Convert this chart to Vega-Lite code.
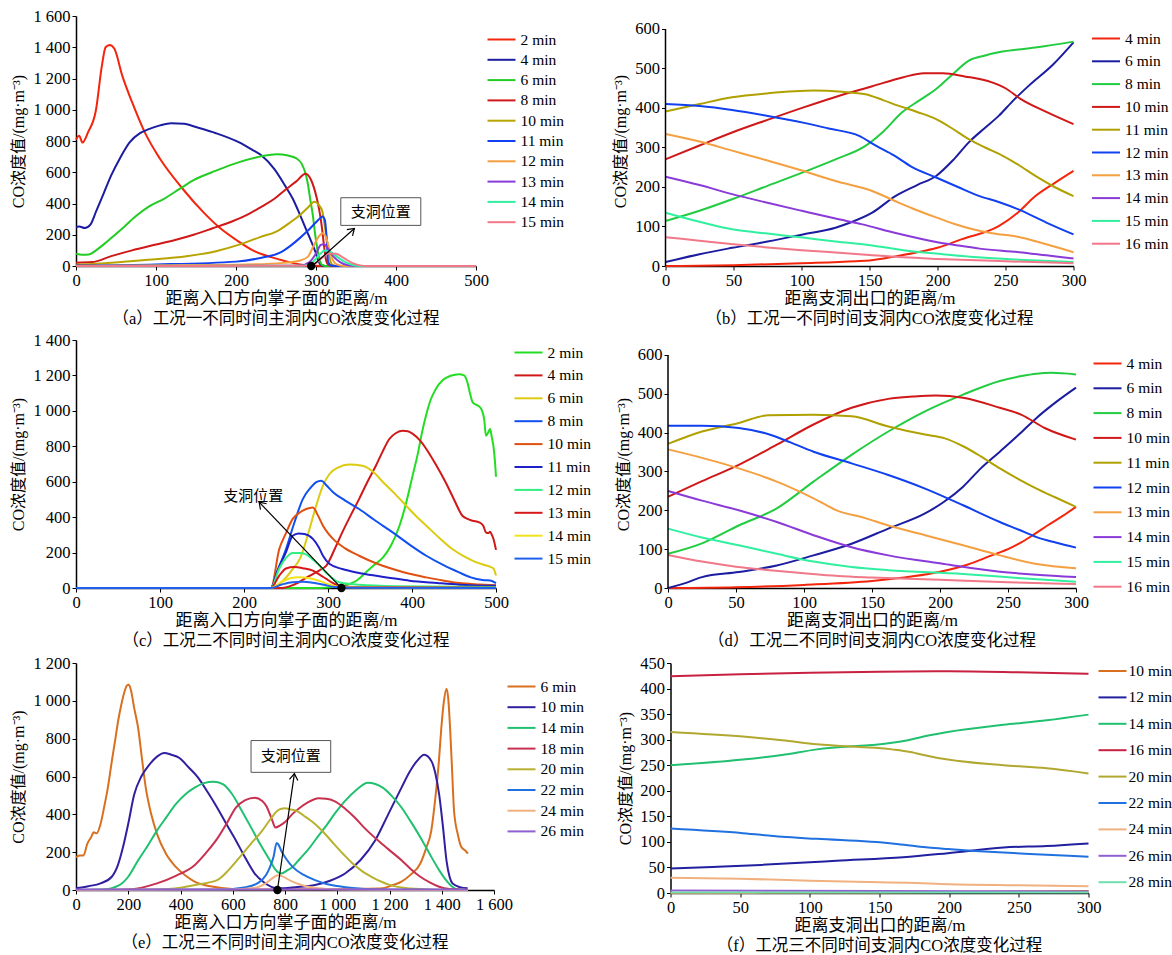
{
"$schema": "https://vega.github.io/schema/vega-lite/v6.json",
"background": "white",
"padding": {"left": 10, "top": 8, "right": 0, "bottom": 0},
"config": {
  "view": {"stroke": null},
  "font": "'Liberation Serif', 'Noto Sans CJK SC'",
  "axis": {"labelFont": "Liberation Serif", "labelFontSize": 16.5, "labelColor": "#000", "titleFont": "'Liberation Serif', 'Noto Sans CJK SC'", "titleFontSize": 17, "titleFontWeight": "normal", "titleColor": "#000", "domainColor": "#000", "domainWidth": 1.5, "tickColor": "#000", "tickSize": 4, "grid": false, "labelPadding": 2, "titlePadding": 2, "labelFlush": false, "labelOverlap": false},
  "axisY": {"titleFontSize": 16, "titlePadding": 6},
  "legend": {"labelFont": "Liberation Serif", "labelFontSize": 15.5, "labelColor": "#000", "symbolType": "M-2,0H2", "symbolStrokeWidth": 2.5, "symbolSize": 196, "labelOffset": 11},
  "title": {"font": "'Liberation Serif', 'Noto Sans CJK SC'", "fontSize": 16.5, "fontWeight": "normal", "color": "#000", "orient": "bottom", "anchor": "middle", "offset": 4},
  "line": {"strokeWidth": 2, "interpolate": "monotone"}
},
"datasets": {
"a": [
{"s":"2 min","x":0,"y":810},{"s":"2 min","x":4,"y":834},{"s":"2 min","x":8,"y":790},{"s":"2 min","x":15,"y":855},{"s":"2 min","x":25,"y":1000},{"s":"2 min","x":32,"y":1270},{"s":"2 min","x":37,"y":1400},{"s":"2 min","x":42,"y":1415},{"s":"2 min","x":48,"y":1390},{"s":"2 min","x":58,"y":1215},{"s":"2 min","x":70,"y":1050},{"s":"2 min","x":86,"y":855},{"s":"2 min","x":105,"y":686},{"s":"2 min","x":133,"y":496},{"s":"2 min","x":160,"y":340},{"s":"2 min","x":180,"y":243},{"s":"2 min","x":200,"y":168},{"s":"2 min","x":223,"y":95},{"s":"2 min","x":245,"y":55},{"s":"2 min","x":261,"y":32},{"s":"2 min","x":280,"y":10},{"s":"2 min","x":300,"y":2},{"s":"2 min","x":320,"y":0},{"s":"2 min","x":500,"y":0},
{"s":"4 min","x":0,"y":250},{"s":"4 min","x":4,"y":253},{"s":"4 min","x":11,"y":243},{"s":"4 min","x":18,"y":265},{"s":"4 min","x":25,"y":348},{"s":"4 min","x":35,"y":470},{"s":"4 min","x":44,"y":580},{"s":"4 min","x":55,"y":690},{"s":"4 min","x":67,"y":791},{"s":"4 min","x":80,"y":850},{"s":"4 min","x":91,"y":876},{"s":"4 min","x":105,"y":900},{"s":"4 min","x":119,"y":914},{"s":"4 min","x":135,"y":910},{"s":"4 min","x":152,"y":886},{"s":"4 min","x":175,"y":850},{"s":"4 min","x":204,"y":791},{"s":"4 min","x":220,"y":745},{"s":"4 min","x":232,"y":707},{"s":"4 min","x":248,"y":620},{"s":"4 min","x":261,"y":517},{"s":"4 min","x":271,"y":430},{"s":"4 min","x":280,"y":327},{"s":"4 min","x":288,"y":230},{"s":"4 min","x":294,"y":158},{"s":"4 min","x":300,"y":80},{"s":"4 min","x":303,"y":32},{"s":"4 min","x":307,"y":5},{"s":"4 min","x":312,"y":0},{"s":"4 min","x":500,"y":0},
{"s":"6 min","x":0,"y":78},{"s":"6 min","x":8,"y":72},{"s":"6 min","x":16,"y":74},{"s":"6 min","x":25,"y":100},{"s":"6 min","x":35,"y":140},{"s":"6 min","x":44,"y":179},{"s":"6 min","x":60,"y":250},{"s":"6 min","x":75,"y":320},{"s":"6 min","x":91,"y":380},{"s":"6 min","x":110,"y":430},{"s":"6 min","x":130,"y":495},{"s":"6 min","x":147,"y":549},{"s":"6 min","x":175,"y":610},{"s":"6 min","x":204,"y":665},{"s":"6 min","x":230,"y":700},{"s":"6 min","x":251,"y":716},{"s":"6 min","x":265,"y":707},{"s":"6 min","x":275,"y":690},{"s":"6 min","x":282,"y":655},{"s":"6 min","x":287,"y":590},{"s":"6 min","x":290,"y":520},{"s":"6 min","x":293,"y":420},{"s":"6 min","x":296,"y":327},{"s":"6 min","x":299,"y":200},{"s":"6 min","x":303,"y":74},{"s":"6 min","x":307,"y":10},{"s":"6 min","x":312,"y":0},{"s":"6 min","x":500,"y":0},
{"s":"8 min","x":0,"y":21},{"s":"8 min","x":20,"y":25},{"s":"8 min","x":44,"y":63},{"s":"8 min","x":70,"y":100},{"s":"8 min","x":100,"y":137},{"s":"8 min","x":125,"y":168},{"s":"8 min","x":147,"y":200},{"s":"8 min","x":170,"y":240},{"s":"8 min","x":195,"y":285},{"s":"8 min","x":215,"y":330},{"s":"8 min","x":232,"y":380},{"s":"8 min","x":248,"y":430},{"s":"8 min","x":261,"y":485},{"s":"8 min","x":275,"y":540},{"s":"8 min","x":287,"y":591},{"s":"8 min","x":294,"y":549},{"s":"8 min","x":301,"y":433},{"s":"8 min","x":305,"y":330},{"s":"8 min","x":308,"y":222},{"s":"8 min","x":310,"y":130},{"s":"8 min","x":312,"y":53},{"s":"8 min","x":315,"y":10},{"s":"8 min","x":320,"y":0},{"s":"8 min","x":500,"y":0},
{"s":"10 min","x":0,"y":8},{"s":"10 min","x":44,"y":21},{"s":"10 min","x":90,"y":40},{"s":"10 min","x":138,"y":63},{"s":"10 min","x":175,"y":95},{"s":"10 min","x":204,"y":137},{"s":"10 min","x":230,"y":185},{"s":"10 min","x":251,"y":222},{"s":"10 min","x":268,"y":280},{"s":"10 min","x":280,"y":327},{"s":"10 min","x":290,"y":375},{"s":"10 min","x":298,"y":412},{"s":"10 min","x":303,"y":395},{"s":"10 min","x":308,"y":348},{"s":"10 min","x":312,"y":222},{"s":"10 min","x":315,"y":120},{"s":"10 min","x":317,"y":53},{"s":"10 min","x":320,"y":10},{"s":"10 min","x":325,"y":0},{"s":"10 min","x":500,"y":0},
{"s":"11 min","x":0,"y":3},{"s":"11 min","x":100,"y":10},{"s":"11 min","x":200,"y":28},{"s":"11 min","x":232,"y":53},{"s":"11 min","x":255,"y":85},{"s":"11 min","x":270,"y":137},{"s":"11 min","x":280,"y":180},{"s":"11 min","x":289,"y":222},{"s":"11 min","x":301,"y":285},{"s":"11 min","x":305,"y":305},{"s":"11 min","x":308,"y":317},{"s":"11 min","x":311,"y":295},{"s":"11 min","x":313,"y":200},{"s":"11 min","x":314,"y":120},{"s":"11 min","x":315,"y":32},{"s":"11 min","x":318,"y":5},{"s":"11 min","x":325,"y":0},{"s":"11 min","x":500,"y":0},
{"s":"12 min","x":0,"y":0},{"s":"12 min","x":200,"y":8},{"s":"12 min","x":260,"y":20},{"s":"12 min","x":280,"y":35},{"s":"12 min","x":290,"y":60},{"s":"12 min","x":297,"y":130},{"s":"12 min","x":303,"y":185},{"s":"12 min","x":308,"y":210},{"s":"12 min","x":312,"y":190},{"s":"12 min","x":316,"y":120},{"s":"12 min","x":320,"y":50},{"s":"12 min","x":326,"y":10},{"s":"12 min","x":335,"y":0},{"s":"12 min","x":500,"y":0},
{"s":"13 min","x":0,"y":0},{"s":"13 min","x":280,"y":2},{"s":"13 min","x":292,"y":25},{"s":"13 min","x":300,"y":80},{"s":"13 min","x":306,"y":135},{"s":"13 min","x":310,"y":140},{"s":"13 min","x":315,"y":110},{"s":"13 min","x":322,"y":60},{"s":"13 min","x":330,"y":25},{"s":"13 min","x":340,"y":5},{"s":"13 min","x":350,"y":0},{"s":"13 min","x":500,"y":0},
{"s":"14 min","x":0,"y":0},{"s":"14 min","x":285,"y":2},{"s":"14 min","x":296,"y":25},{"s":"14 min","x":304,"y":70},{"s":"14 min","x":311,"y":100},{"s":"14 min","x":318,"y":90},{"s":"14 min","x":326,"y":60},{"s":"14 min","x":335,"y":30},{"s":"14 min","x":345,"y":8},{"s":"14 min","x":355,"y":0},{"s":"14 min","x":500,"y":0},
{"s":"15 min","x":0,"y":0},{"s":"15 min","x":290,"y":2},{"s":"15 min","x":300,"y":20},{"s":"15 min","x":308,"y":55},{"s":"15 min","x":316,"y":80},{"s":"15 min","x":325,"y":78},{"s":"15 min","x":335,"y":50},{"s":"15 min","x":345,"y":20},{"s":"15 min","x":355,"y":4},{"s":"15 min","x":365,"y":0},{"s":"15 min","x":500,"y":0}
],
"b": [
{"s":"4 min","x":0,"y":0},{"s":"4 min","x":50,"y":2},{"s":"4 min","x":100,"y":7},{"s":"4 min","x":140,"y":12},{"s":"4 min","x":150,"y":14},{"s":"4 min","x":170,"y":25},{"s":"4 min","x":190,"y":38},{"s":"4 min","x":200,"y":46},{"s":"4 min","x":218,"y":68},{"s":"4 min","x":245,"y":101},{"s":"4 min","x":259,"y":135},{"s":"4 min","x":272,"y":177},{"s":"4 min","x":286,"y":210},{"s":"4 min","x":300,"y":241},
{"s":"6 min","x":0,"y":10},{"s":"6 min","x":25,"y":30},{"s":"6 min","x":49,"y":46},{"s":"6 min","x":75,"y":62},{"s":"6 min","x":101,"y":80},{"s":"6 min","x":125,"y":97},{"s":"6 min","x":136,"y":110},{"s":"6 min","x":152,"y":135},{"s":"6 min","x":169,"y":177},{"s":"6 min","x":185,"y":205},{"s":"6 min","x":199,"y":228},{"s":"6 min","x":212,"y":270},{"s":"6 min","x":223,"y":313},{"s":"6 min","x":235,"y":350},{"s":"6 min","x":245,"y":380},{"s":"6 min","x":256,"y":420},{"s":"6 min","x":267,"y":456},{"s":"6 min","x":285,"y":510},{"s":"6 min","x":300,"y":566},
{"s":"8 min","x":0,"y":114},{"s":"8 min","x":25,"y":140},{"s":"8 min","x":49,"y":169},{"s":"8 min","x":75,"y":203},{"s":"8 min","x":101,"y":237},{"s":"8 min","x":125,"y":270},{"s":"8 min","x":147,"y":304},{"s":"8 min","x":160,"y":340},{"s":"8 min","x":174,"y":389},{"s":"8 min","x":187,"y":420},{"s":"8 min","x":199,"y":448},{"s":"8 min","x":211,"y":485},{"s":"8 min","x":223,"y":520},{"s":"8 min","x":235,"y":533},{"s":"8 min","x":245,"y":541},{"s":"8 min","x":272,"y":553},{"s":"8 min","x":300,"y":568},
{"s":"10 min","x":0,"y":270},{"s":"10 min","x":25,"y":305},{"s":"10 min","x":49,"y":338},{"s":"10 min","x":75,"y":370},{"s":"10 min","x":101,"y":401},{"s":"10 min","x":125,"y":428},{"s":"10 min","x":152,"y":455},{"s":"10 min","x":175,"y":478},{"s":"10 min","x":190,"y":488},{"s":"10 min","x":204,"y":488},{"s":"10 min","x":220,"y":480},{"s":"10 min","x":240,"y":465},{"s":"10 min","x":250,"y":450},{"s":"10 min","x":261,"y":423},{"s":"10 min","x":280,"y":390},{"s":"10 min","x":300,"y":359},
{"s":"11 min","x":0,"y":391},{"s":"11 min","x":25,"y":410},{"s":"11 min","x":49,"y":427},{"s":"11 min","x":75,"y":437},{"s":"11 min","x":109,"y":444},{"s":"11 min","x":130,"y":441},{"s":"11 min","x":147,"y":435},{"s":"11 min","x":160,"y":420},{"s":"11 min","x":171,"y":406},{"s":"11 min","x":185,"y":390},{"s":"11 min","x":199,"y":372},{"s":"11 min","x":210,"y":350},{"s":"11 min","x":223,"y":321},{"s":"11 min","x":235,"y":300},{"s":"11 min","x":248,"y":279},{"s":"11 min","x":260,"y":255},{"s":"11 min","x":272,"y":228},{"s":"11 min","x":286,"y":200},{"s":"11 min","x":300,"y":177},
{"s":"12 min","x":0,"y":410},{"s":"12 min","x":25,"y":405},{"s":"12 min","x":49,"y":395},{"s":"12 min","x":75,"y":380},{"s":"12 min","x":101,"y":363},{"s":"12 min","x":120,"y":348},{"s":"12 min","x":142,"y":330},{"s":"12 min","x":155,"y":304},{"s":"12 min","x":168,"y":280},{"s":"12 min","x":180,"y":253},{"s":"12 min","x":199,"y":224},{"s":"12 min","x":215,"y":200},{"s":"12 min","x":231,"y":177},{"s":"12 min","x":245,"y":162},{"s":"12 min","x":259,"y":144},{"s":"12 min","x":280,"y":110},{"s":"12 min","x":300,"y":80},
{"s":"13 min","x":0,"y":334},{"s":"13 min","x":25,"y":315},{"s":"13 min","x":49,"y":292},{"s":"13 min","x":75,"y":267},{"s":"13 min","x":101,"y":241},{"s":"13 min","x":125,"y":215},{"s":"13 min","x":152,"y":190},{"s":"13 min","x":171,"y":161},{"s":"13 min","x":185,"y":141},{"s":"13 min","x":199,"y":123},{"s":"13 min","x":212,"y":107},{"s":"13 min","x":226,"y":93},{"s":"13 min","x":240,"y":83},{"s":"13 min","x":259,"y":74},{"s":"13 min","x":280,"y":55},{"s":"13 min","x":300,"y":35},
{"s":"14 min","x":0,"y":226},{"s":"14 min","x":25,"y":205},{"s":"14 min","x":49,"y":182},{"s":"14 min","x":75,"y":160},{"s":"14 min","x":101,"y":139},{"s":"14 min","x":125,"y":120},{"s":"14 min","x":144,"y":106},{"s":"14 min","x":170,"y":83},{"s":"14 min","x":199,"y":61},{"s":"14 min","x":215,"y":52},{"s":"14 min","x":231,"y":44},{"s":"14 min","x":260,"y":35},{"s":"14 min","x":280,"y":27},{"s":"14 min","x":300,"y":19},
{"s":"15 min","x":0,"y":135},{"s":"15 min","x":25,"y":112},{"s":"15 min","x":49,"y":93},{"s":"15 min","x":75,"y":82},{"s":"15 min","x":101,"y":72},{"s":"15 min","x":125,"y":62},{"s":"15 min","x":152,"y":52},{"s":"15 min","x":175,"y":40},{"s":"15 min","x":204,"y":30},{"s":"15 min","x":230,"y":22},{"s":"15 min","x":260,"y":16},{"s":"15 min","x":300,"y":10},
{"s":"16 min","x":0,"y":73},{"s":"16 min","x":25,"y":64},{"s":"16 min","x":50,"y":55},{"s":"16 min","x":75,"y":47},{"s":"16 min","x":100,"y":40},{"s":"16 min","x":125,"y":34},{"s":"16 min","x":150,"y":28},{"s":"16 min","x":175,"y":22},{"s":"16 min","x":200,"y":18},{"s":"16 min","x":250,"y":12},{"s":"16 min","x":300,"y":7}
],
"c": [
{"s":"2 min","x":0,"y":0},{"s":"2 min","x":290,"y":0},{"s":"2 min","x":305,"y":5},{"s":"2 min","x":320,"y":15},{"s":"2 min","x":335,"y":45},{"s":"2 min","x":345,"y":88},{"s":"2 min","x":355,"y":130},{"s":"2 min","x":365,"y":170},{"s":"2 min","x":375,"y":240},{"s":"2 min","x":385,"y":350},{"s":"2 min","x":393,"y":480},{"s":"2 min","x":401,"y":640},{"s":"2 min","x":407,"y":760},{"s":"2 min","x":412,"y":880},{"s":"2 min","x":417,"y":980},{"s":"2 min","x":422,"y":1060},{"s":"2 min","x":428,"y":1120},{"s":"2 min","x":437,"y":1175},{"s":"2 min","x":446,"y":1198},{"s":"2 min","x":456,"y":1207},{"s":"2 min","x":462,"y":1200},{"s":"2 min","x":466,"y":1160},{"s":"2 min","x":469,"y":1100},{"s":"2 min","x":472,"y":1050},{"s":"2 min","x":476,"y":1035},{"s":"2 min","x":480,"y":1025},{"s":"2 min","x":483,"y":1005},{"s":"2 min","x":486,"y":950},{"s":"2 min","x":488,"y":860},{"s":"2 min","x":491,"y":880},{"s":"2 min","x":493,"y":898},{"s":"2 min","x":495,"y":850},{"s":"2 min","x":497,"y":800},{"s":"2 min","x":499,"y":700},{"s":"2 min","x":500,"y":628},
{"s":"4 min","x":0,"y":0},{"s":"4 min","x":245,"y":0},{"s":"4 min","x":260,"y":20},{"s":"4 min","x":278,"y":69},{"s":"4 min","x":290,"y":100},{"s":"4 min","x":298,"y":126},{"s":"4 min","x":308,"y":220},{"s":"4 min","x":317,"y":314},{"s":"4 min","x":327,"y":410},{"s":"4 min","x":337,"y":502},{"s":"4 min","x":347,"y":600},{"s":"4 min","x":357,"y":690},{"s":"4 min","x":365,"y":770},{"s":"4 min","x":373,"y":841},{"s":"4 min","x":381,"y":875},{"s":"4 min","x":389,"y":888},{"s":"4 min","x":395,"y":885},{"s":"4 min","x":401,"y":870},{"s":"4 min","x":410,"y":830},{"s":"4 min","x":417,"y":785},{"s":"4 min","x":428,"y":700},{"s":"4 min","x":440,"y":597},{"s":"4 min","x":450,"y":500},{"s":"4 min","x":460,"y":408},{"s":"4 min","x":466,"y":390},{"s":"4 min","x":472,"y":380},{"s":"4 min","x":480,"y":371},{"s":"4 min","x":485,"y":350},{"s":"4 min","x":488,"y":314},{"s":"4 min","x":491,"y":310},{"s":"4 min","x":493,"y":318},{"s":"4 min","x":495,"y":300},{"s":"4 min","x":497,"y":277},{"s":"4 min","x":500,"y":215},
{"s":"6 min","x":0,"y":0},{"s":"6 min","x":231,"y":0},{"s":"6 min","x":245,"y":35},{"s":"6 min","x":258,"y":107},{"s":"6 min","x":267,"y":170},{"s":"6 min","x":278,"y":333},{"s":"6 min","x":285,"y":450},{"s":"6 min","x":294,"y":578},{"s":"6 min","x":302,"y":645},{"s":"6 min","x":312,"y":680},{"s":"6 min","x":325,"y":697},{"s":"6 min","x":341,"y":690},{"s":"6 min","x":355,"y":650},{"s":"6 min","x":365,"y":600},{"s":"6 min","x":380,"y":530},{"s":"6 min","x":393,"y":465},{"s":"6 min","x":405,"y":405},{"s":"6 min","x":417,"y":352},{"s":"6 min","x":432,"y":285},{"s":"6 min","x":448,"y":220},{"s":"6 min","x":462,"y":178},{"s":"6 min","x":476,"y":146},{"s":"6 min","x":486,"y":130},{"s":"6 min","x":493,"y":120},{"s":"6 min","x":497,"y":110},{"s":"6 min","x":500,"y":70},
{"s":"8 min","x":0,"y":0},{"s":"8 min","x":232,"y":0},{"s":"8 min","x":240,"y":100},{"s":"8 min","x":250,"y":220},{"s":"8 min","x":260,"y":370},{"s":"8 min","x":270,"y":502},{"s":"8 min","x":280,"y":570},{"s":"8 min","x":286,"y":598},{"s":"8 min","x":292,"y":606},{"s":"8 min","x":298,"y":580},{"s":"8 min","x":306,"y":541},{"s":"8 min","x":320,"y":495},{"s":"8 min","x":337,"y":446},{"s":"8 min","x":355,"y":385},{"s":"8 min","x":377,"y":314},{"s":"8 min","x":397,"y":245},{"s":"8 min","x":417,"y":182},{"s":"8 min","x":437,"y":130},{"s":"8 min","x":456,"y":88},{"s":"8 min","x":470,"y":60},{"s":"8 min","x":484,"y":45},{"s":"8 min","x":493,"y":42},{"s":"8 min","x":500,"y":27},
{"s":"10 min","x":0,"y":0},{"s":"10 min","x":232,"y":0},{"s":"10 min","x":242,"y":220},{"s":"10 min","x":250,"y":310},{"s":"10 min","x":258,"y":390},{"s":"10 min","x":266,"y":425},{"s":"10 min","x":274,"y":446},{"s":"10 min","x":282,"y":455},{"s":"10 min","x":288,"y":410},{"s":"10 min","x":294,"y":352},{"s":"10 min","x":300,"y":310},{"s":"10 min","x":306,"y":277},{"s":"10 min","x":320,"y":225},{"s":"10 min","x":337,"y":182},{"s":"10 min","x":357,"y":140},{"s":"10 min","x":377,"y":107},{"s":"10 min","x":397,"y":80},{"s":"10 min","x":417,"y":60},{"s":"10 min","x":437,"y":42},{"s":"10 min","x":456,"y":28},{"s":"10 min","x":480,"y":20},{"s":"10 min","x":500,"y":15},
{"s":"11 min","x":0,"y":0},{"s":"11 min","x":232,"y":0},{"s":"11 min","x":240,"y":100},{"s":"11 min","x":250,"y":202},{"s":"11 min","x":258,"y":295},{"s":"11 min","x":265,"y":308},{"s":"11 min","x":272,"y":305},{"s":"11 min","x":282,"y":277},{"s":"11 min","x":289,"y":230},{"s":"11 min","x":294,"y":182},{"s":"11 min","x":302,"y":135},{"s":"11 min","x":317,"y":107},{"s":"11 min","x":337,"y":85},{"s":"11 min","x":357,"y":69},{"s":"11 min","x":377,"y":55},{"s":"11 min","x":397,"y":41},{"s":"11 min","x":430,"y":28},{"s":"11 min","x":456,"y":19},{"s":"11 min","x":500,"y":12},
{"s":"12 min","x":0,"y":0},{"s":"12 min","x":232,"y":0},{"s":"12 min","x":242,"y":110},{"s":"12 min","x":250,"y":170},{"s":"12 min","x":258,"y":198},{"s":"12 min","x":266,"y":198},{"s":"12 min","x":274,"y":190},{"s":"12 min","x":282,"y":160},{"s":"12 min","x":290,"y":126},{"s":"12 min","x":296,"y":95},{"s":"12 min","x":302,"y":69},{"s":"12 min","x":313,"y":32},{"s":"12 min","x":337,"y":18},{"s":"12 min","x":380,"y":10},{"s":"12 min","x":500,"y":5},
{"s":"13 min","x":0,"y":0},{"s":"13 min","x":232,"y":0},{"s":"13 min","x":242,"y":70},{"s":"13 min","x":250,"y":110},{"s":"13 min","x":260,"y":118},{"s":"13 min","x":270,"y":112},{"s":"13 min","x":282,"y":98},{"s":"13 min","x":290,"y":75},{"s":"13 min","x":298,"y":51},{"s":"13 min","x":305,"y":30},{"s":"13 min","x":312,"y":14},{"s":"13 min","x":330,"y":6},{"s":"13 min","x":500,"y":2},
{"s":"14 min","x":0,"y":0},{"s":"14 min","x":232,"y":0},{"s":"14 min","x":245,"y":35},{"s":"14 min","x":255,"y":55},{"s":"14 min","x":265,"y":60},{"s":"14 min","x":278,"y":55},{"s":"14 min","x":290,"y":40},{"s":"14 min","x":300,"y":22},{"s":"14 min","x":310,"y":8},{"s":"14 min","x":330,"y":3},{"s":"14 min","x":500,"y":0},
{"s":"15 min","x":0,"y":0},{"s":"15 min","x":232,"y":0},{"s":"15 min","x":245,"y":20},{"s":"15 min","x":258,"y":33},{"s":"15 min","x":270,"y":35},{"s":"15 min","x":282,"y":30},{"s":"15 min","x":295,"y":18},{"s":"15 min","x":308,"y":6},{"s":"15 min","x":330,"y":2},{"s":"15 min","x":500,"y":0}
],
"d": [
{"s":"4 min","x":0,"y":0},{"s":"4 min","x":50,"y":2},{"s":"4 min","x":100,"y":8},{"s":"4 min","x":150,"y":18},{"s":"4 min","x":180,"y":30},{"s":"4 min","x":200,"y":42},{"s":"4 min","x":220,"y":60},{"s":"4 min","x":238,"y":84},{"s":"4 min","x":250,"y":100},{"s":"4 min","x":260,"y":118},{"s":"4 min","x":270,"y":140},{"s":"4 min","x":279,"y":161},{"s":"4 min","x":290,"y":185},{"s":"4 min","x":300,"y":209},
{"s":"6 min","x":0,"y":0},{"s":"6 min","x":12,"y":12},{"s":"6 min","x":25,"y":28},{"s":"6 min","x":52,"y":41},{"s":"6 min","x":80,"y":58},{"s":"6 min","x":107,"y":84},{"s":"6 min","x":135,"y":114},{"s":"6 min","x":162,"y":153},{"s":"6 min","x":189,"y":192},{"s":"6 min","x":203,"y":222},{"s":"6 min","x":217,"y":261},{"s":"6 min","x":230,"y":308},{"s":"6 min","x":244,"y":351},{"s":"6 min","x":258,"y":395},{"s":"6 min","x":271,"y":438},{"s":"6 min","x":285,"y":478},{"s":"6 min","x":300,"y":516},
{"s":"8 min","x":0,"y":88},{"s":"8 min","x":25,"y":115},{"s":"8 min","x":52,"y":161},{"s":"8 min","x":80,"y":205},{"s":"8 min","x":107,"y":274},{"s":"8 min","x":135,"y":343},{"s":"8 min","x":162,"y":403},{"s":"8 min","x":189,"y":455},{"s":"8 min","x":217,"y":498},{"s":"8 min","x":244,"y":533},{"s":"8 min","x":260,"y":546},{"s":"8 min","x":271,"y":552},{"s":"8 min","x":282,"y":554},{"s":"8 min","x":300,"y":550},
{"s":"10 min","x":0,"y":235},{"s":"10 min","x":25,"y":275},{"s":"10 min","x":52,"y":317},{"s":"10 min","x":80,"y":369},{"s":"10 min","x":107,"y":421},{"s":"10 min","x":135,"y":464},{"s":"10 min","x":162,"y":487},{"s":"10 min","x":180,"y":493},{"s":"10 min","x":197,"y":496},{"s":"10 min","x":217,"y":490},{"s":"10 min","x":244,"y":464},{"s":"10 min","x":260,"y":446},{"s":"10 min","x":277,"y":412},{"s":"10 min","x":300,"y":382},
{"s":"11 min","x":0,"y":371},{"s":"11 min","x":25,"y":403},{"s":"11 min","x":52,"y":425},{"s":"11 min","x":74,"y":445},{"s":"11 min","x":107,"y":446},{"s":"11 min","x":135,"y":442},{"s":"11 min","x":162,"y":416},{"s":"11 min","x":189,"y":395},{"s":"11 min","x":203,"y":386},{"s":"11 min","x":217,"y":365},{"s":"11 min","x":230,"y":339},{"s":"11 min","x":244,"y":308},{"s":"11 min","x":258,"y":280},{"s":"11 min","x":271,"y":256},{"s":"11 min","x":285,"y":233},{"s":"11 min","x":300,"y":209},
{"s":"12 min","x":0,"y":418},{"s":"12 min","x":25,"y":418},{"s":"12 min","x":52,"y":412},{"s":"12 min","x":74,"y":396},{"s":"12 min","x":90,"y":375},{"s":"12 min","x":107,"y":351},{"s":"12 min","x":135,"y":321},{"s":"12 min","x":162,"y":291},{"s":"12 min","x":189,"y":256},{"s":"12 min","x":217,"y":213},{"s":"12 min","x":244,"y":170},{"s":"12 min","x":258,"y":150},{"s":"12 min","x":271,"y":131},{"s":"12 min","x":285,"y":117},{"s":"12 min","x":300,"y":104},
{"s":"13 min","x":0,"y":357},{"s":"13 min","x":25,"y":335},{"s":"13 min","x":52,"y":308},{"s":"13 min","x":80,"y":274},{"s":"13 min","x":107,"y":231},{"s":"13 min","x":124,"y":200},{"s":"13 min","x":145,"y":180},{"s":"13 min","x":162,"y":161},{"s":"13 min","x":189,"y":136},{"s":"13 min","x":217,"y":110},{"s":"13 min","x":244,"y":84},{"s":"13 min","x":271,"y":62},{"s":"13 min","x":300,"y":51},
{"s":"14 min","x":0,"y":250},{"s":"14 min","x":25,"y":225},{"s":"14 min","x":52,"y":200},{"s":"14 min","x":80,"y":170},{"s":"14 min","x":107,"y":136},{"s":"14 min","x":135,"y":105},{"s":"14 min","x":162,"y":84},{"s":"14 min","x":203,"y":62},{"s":"14 min","x":244,"y":42},{"s":"14 min","x":271,"y":34},{"s":"14 min","x":300,"y":28},
{"s":"15 min","x":0,"y":153},{"s":"15 min","x":25,"y":130},{"s":"15 min","x":52,"y":110},{"s":"15 min","x":80,"y":88},{"s":"15 min","x":107,"y":68},{"s":"15 min","x":135,"y":54},{"s":"15 min","x":162,"y":46},{"s":"15 min","x":217,"y":36},{"s":"15 min","x":260,"y":25},{"s":"15 min","x":300,"y":16},
{"s":"16 min","x":0,"y":85},{"s":"16 min","x":25,"y":68},{"s":"16 min","x":50,"y":55},{"s":"16 min","x":75,"y":46},{"s":"16 min","x":100,"y":38},{"s":"16 min","x":125,"y":31},{"s":"16 min","x":150,"y":27},{"s":"16 min","x":200,"y":21},{"s":"16 min","x":250,"y":15},{"s":"16 min","x":300,"y":10}
],
"e": [
{"s":"6 min","x":0,"y":174},{"s":"6 min","x":14,"y":183},{"s":"6 min","x":29,"y":183},{"s":"6 min","x":43,"y":244},{"s":"6 min","x":58,"y":279},{"s":"6 min","x":68,"y":305},{"s":"6 min","x":79,"y":300},{"s":"6 min","x":94,"y":349},{"s":"6 min","x":108,"y":440},{"s":"6 min","x":122,"y":541},{"s":"6 min","x":137,"y":680},{"s":"6 min","x":151,"y":802},{"s":"6 min","x":162,"y":900},{"s":"6 min","x":173,"y":977},{"s":"6 min","x":184,"y":1040},{"s":"6 min","x":195,"y":1081},{"s":"6 min","x":202,"y":1085},{"s":"6 min","x":209,"y":1064},{"s":"6 min","x":223,"y":960},{"s":"6 min","x":238,"y":855},{"s":"6 min","x":252,"y":700},{"s":"6 min","x":267,"y":541},{"s":"6 min","x":288,"y":400},{"s":"6 min","x":310,"y":297},{"s":"6 min","x":345,"y":190},{"s":"6 min","x":382,"y":122},{"s":"6 min","x":420,"y":75},{"s":"6 min","x":454,"y":44},{"s":"6 min","x":520,"y":18},{"s":"6 min","x":598,"y":5},{"s":"6 min","x":700,"y":2},{"s":"6 min","x":1000,"y":4},{"s":"6 min","x":1100,"y":6},{"s":"6 min","x":1174,"y":9},{"s":"6 min","x":1210,"y":25},{"s":"6 min","x":1246,"y":44},{"s":"6 min","x":1280,"y":80},{"s":"6 min","x":1318,"y":140},{"s":"6 min","x":1340,"y":220},{"s":"6 min","x":1360,"y":314},{"s":"6 min","x":1375,"y":480},{"s":"6 min","x":1389,"y":680},{"s":"6 min","x":1398,"y":850},{"s":"6 min","x":1408,"y":994},{"s":"6 min","x":1418,"y":1064},{"s":"6 min","x":1425,"y":1010},{"s":"6 min","x":1432,"y":855},{"s":"6 min","x":1440,"y":620},{"s":"6 min","x":1447,"y":419},{"s":"6 min","x":1461,"y":297},{"s":"6 min","x":1475,"y":227},{"s":"6 min","x":1490,"y":209},{"s":"6 min","x":1500,"y":192},
{"s":"10 min","x":0,"y":9},{"s":"10 min","x":47,"y":20},{"s":"10 min","x":94,"y":35},{"s":"10 min","x":137,"y":70},{"s":"10 min","x":160,"y":130},{"s":"10 min","x":180,"y":227},{"s":"10 min","x":200,"y":350},{"s":"10 min","x":223,"y":506},{"s":"10 min","x":250,"y":600},{"s":"10 min","x":281,"y":663},{"s":"10 min","x":310,"y":705},{"s":"10 min","x":338,"y":724},{"s":"10 min","x":365,"y":715},{"s":"10 min","x":396,"y":698},{"s":"10 min","x":430,"y":650},{"s":"10 min","x":468,"y":593},{"s":"10 min","x":505,"y":515},{"s":"10 min","x":540,"y":436},{"s":"10 min","x":575,"y":350},{"s":"10 min","x":612,"y":262},{"s":"10 min","x":648,"y":170},{"s":"10 min","x":684,"y":87},{"s":"10 min","x":720,"y":40},{"s":"10 min","x":771,"y":9},{"s":"10 min","x":840,"y":15},{"s":"10 min","x":915,"y":26},{"s":"10 min","x":975,"y":50},{"s":"10 min","x":1030,"y":87},{"s":"10 min","x":1090,"y":160},{"s":"10 min","x":1145,"y":262},{"s":"10 min","x":1195,"y":400},{"s":"10 min","x":1246,"y":541},{"s":"10 min","x":1275,"y":620},{"s":"10 min","x":1304,"y":680},{"s":"10 min","x":1333,"y":715},{"s":"10 min","x":1361,"y":680},{"s":"10 min","x":1375,"y":620},{"s":"10 min","x":1390,"y":506},{"s":"10 min","x":1405,"y":330},{"s":"10 min","x":1418,"y":157},{"s":"10 min","x":1430,"y":70},{"s":"10 min","x":1441,"y":35},{"s":"10 min","x":1470,"y":15},{"s":"10 min","x":1499,"y":9},
{"s":"14 min","x":0,"y":0},{"s":"14 min","x":100,"y":2},{"s":"14 min","x":166,"y":26},{"s":"14 min","x":200,"y":70},{"s":"14 min","x":238,"y":157},{"s":"14 min","x":275,"y":235},{"s":"14 min","x":310,"y":314},{"s":"14 min","x":346,"y":385},{"s":"14 min","x":382,"y":454},{"s":"14 min","x":418,"y":505},{"s":"14 min","x":454,"y":541},{"s":"14 min","x":490,"y":565},{"s":"14 min","x":526,"y":572},{"s":"14 min","x":562,"y":560},{"s":"14 min","x":598,"y":506},{"s":"14 min","x":634,"y":420},{"s":"14 min","x":670,"y":331},{"s":"14 min","x":706,"y":240},{"s":"14 min","x":742,"y":157},{"s":"14 min","x":765,"y":105},{"s":"14 min","x":785,"y":87},{"s":"14 min","x":810,"y":105},{"s":"14 min","x":829,"y":122},{"s":"14 min","x":857,"y":165},{"s":"14 min","x":886,"y":209},{"s":"14 min","x":922,"y":275},{"s":"14 min","x":958,"y":340},{"s":"14 min","x":994,"y":410},{"s":"14 min","x":1030,"y":471},{"s":"14 min","x":1074,"y":530},{"s":"14 min","x":1117,"y":567},{"s":"14 min","x":1146,"y":560},{"s":"14 min","x":1174,"y":541},{"s":"14 min","x":1210,"y":495},{"s":"14 min","x":1246,"y":436},{"s":"14 min","x":1282,"y":360},{"s":"14 min","x":1318,"y":279},{"s":"14 min","x":1354,"y":190},{"s":"14 min","x":1390,"y":105},{"s":"14 min","x":1412,"y":60},{"s":"14 min","x":1433,"y":26},{"s":"14 min","x":1455,"y":5},{"s":"14 min","x":1500,"y":0},
{"s":"18 min","x":0,"y":0},{"s":"18 min","x":200,"y":3},{"s":"18 min","x":310,"y":35},{"s":"18 min","x":382,"y":75},{"s":"18 min","x":454,"y":131},{"s":"18 min","x":497,"y":195},{"s":"18 min","x":540,"y":270},{"s":"18 min","x":576,"y":350},{"s":"18 min","x":612,"y":436},{"s":"18 min","x":648,"y":475},{"s":"18 min","x":684,"y":488},{"s":"18 min","x":713,"y":471},{"s":"18 min","x":730,"y":440},{"s":"18 min","x":742,"y":401},{"s":"18 min","x":752,"y":365},{"s":"18 min","x":763,"y":331},{"s":"18 min","x":780,"y":340},{"s":"18 min","x":799,"y":358},{"s":"18 min","x":828,"y":401},{"s":"18 min","x":857,"y":435},{"s":"18 min","x":886,"y":462},{"s":"18 min","x":929,"y":485},{"s":"18 min","x":958,"y":482},{"s":"18 min","x":987,"y":471},{"s":"18 min","x":1030,"y":430},{"s":"18 min","x":1066,"y":385},{"s":"18 min","x":1102,"y":331},{"s":"18 min","x":1174,"y":240},{"s":"18 min","x":1246,"y":157},{"s":"18 min","x":1282,"y":110},{"s":"18 min","x":1318,"y":70},{"s":"18 min","x":1354,"y":40},{"s":"18 min","x":1390,"y":17},{"s":"18 min","x":1430,"y":5},{"s":"18 min","x":1500,"y":0},
{"s":"20 min","x":0,"y":0},{"s":"20 min","x":300,"y":3},{"s":"20 min","x":400,"y":12},{"s":"20 min","x":470,"y":30},{"s":"20 min","x":540,"y":52},{"s":"20 min","x":584,"y":105},{"s":"20 min","x":627,"y":174},{"s":"20 min","x":670,"y":245},{"s":"20 min","x":713,"y":314},{"s":"20 min","x":742,"y":370},{"s":"20 min","x":771,"y":419},{"s":"20 min","x":786,"y":430},{"s":"20 min","x":800,"y":432},{"s":"20 min","x":822,"y":426},{"s":"20 min","x":843,"y":419},{"s":"20 min","x":880,"y":385},{"s":"20 min","x":915,"y":349},{"s":"20 min","x":951,"y":300},{"s":"20 min","x":987,"y":244},{"s":"20 min","x":1023,"y":190},{"s":"20 min","x":1059,"y":140},{"s":"20 min","x":1095,"y":100},{"s":"20 min","x":1131,"y":70},{"s":"20 min","x":1167,"y":45},{"s":"20 min","x":1203,"y":26},{"s":"20 min","x":1260,"y":10},{"s":"20 min","x":1350,"y":3},{"s":"20 min","x":1500,"y":0},
{"s":"22 min","x":0,"y":0},{"s":"22 min","x":550,"y":3},{"s":"22 min","x":650,"y":15},{"s":"22 min","x":700,"y":40},{"s":"22 min","x":728,"y":80},{"s":"22 min","x":742,"y":120},{"s":"22 min","x":756,"y":174},{"s":"22 min","x":768,"y":249},{"s":"22 min","x":775,"y":240},{"s":"22 min","x":785,"y":209},{"s":"22 min","x":807,"y":160},{"s":"22 min","x":829,"y":122},{"s":"22 min","x":872,"y":80},{"s":"22 min","x":915,"y":52},{"s":"22 min","x":958,"y":32},{"s":"22 min","x":1001,"y":21},{"s":"22 min","x":1060,"y":10},{"s":"22 min","x":1150,"y":3},{"s":"22 min","x":1500,"y":0},
{"s":"24 min","x":0,"y":0},{"s":"24 min","x":600,"y":2},{"s":"24 min","x":680,"y":10},{"s":"24 min","x":720,"y":30},{"s":"24 min","x":750,"y":60},{"s":"24 min","x":772,"y":78},{"s":"24 min","x":790,"y":72},{"s":"24 min","x":820,"y":50},{"s":"24 min","x":860,"y":28},{"s":"24 min","x":900,"y":14},{"s":"24 min","x":960,"y":5},{"s":"24 min","x":1050,"y":1},{"s":"24 min","x":1500,"y":0},
{"s":"26 min","x":0,"y":3},{"s":"26 min","x":750,"y":3},{"s":"26 min","x":1500,"y":3}
],
"f": [
{"s":"10 min","x":0,"y":0},{"s":"10 min","x":150,"y":1},{"s":"10 min","x":200,"y":2},{"s":"10 min","x":300,"y":4},
{"s":"12 min","x":0,"y":48},{"s":"12 min","x":30,"y":51},{"s":"12 min","x":65,"y":55},{"s":"12 min","x":100,"y":60},{"s":"12 min","x":119,"y":63},{"s":"12 min","x":167,"y":70},{"s":"12 min","x":199,"y":78},{"s":"12 min","x":239,"y":89},{"s":"12 min","x":270,"y":92},{"s":"12 min","x":300,"y":97},
{"s":"14 min","x":0,"y":250},{"s":"14 min","x":52,"y":261},{"s":"14 min","x":80,"y":270},{"s":"14 min","x":105,"y":281},{"s":"14 min","x":159,"y":294},{"s":"14 min","x":172,"y":300},{"s":"14 min","x":185,"y":308},{"s":"14 min","x":199,"y":315},{"s":"14 min","x":239,"y":329},{"s":"14 min","x":270,"y":338},{"s":"14 min","x":300,"y":349},
{"s":"16 min","x":0,"y":424},{"s":"16 min","x":50,"y":428},{"s":"16 min","x":100,"y":431},{"s":"16 min","x":150,"y":433},{"s":"16 min","x":200,"y":434},{"s":"16 min","x":250,"y":432},{"s":"16 min","x":300,"y":429},
{"s":"20 min","x":0,"y":315},{"s":"20 min","x":52,"y":306},{"s":"20 min","x":80,"y":299},{"s":"20 min","x":105,"y":291},{"s":"20 min","x":159,"y":281},{"s":"20 min","x":172,"y":276},{"s":"20 min","x":185,"y":268},{"s":"20 min","x":199,"y":261},{"s":"20 min","x":239,"y":250},{"s":"20 min","x":270,"y":244},{"s":"20 min","x":300,"y":234},
{"s":"22 min","x":0,"y":126},{"s":"22 min","x":52,"y":117},{"s":"22 min","x":80,"y":110},{"s":"22 min","x":105,"y":106},{"s":"22 min","x":159,"y":97},{"s":"22 min","x":172,"y":93},{"s":"22 min","x":185,"y":89},{"s":"22 min","x":199,"y":86},{"s":"22 min","x":239,"y":79},{"s":"22 min","x":270,"y":75},{"s":"22 min","x":300,"y":71},
{"s":"24 min","x":0,"y":30},{"s":"24 min","x":50,"y":28},{"s":"24 min","x":100,"y":24},{"s":"24 min","x":150,"y":21},{"s":"24 min","x":170,"y":20},{"s":"24 min","x":200,"y":17},{"s":"24 min","x":250,"y":15},{"s":"24 min","x":300,"y":13},
{"s":"26 min","x":0,"y":5},{"s":"26 min","x":150,"y":4},{"s":"26 min","x":300,"y":3},
{"s":"28 min","x":0,"y":1},{"s":"28 min","x":300,"y":1}
]
},
"resolve": {"scale": {"color": "independent"}, "legend": {"color": "independent"}},
"spacing": 6,
"vconcat": [
{"spacing": 5, "resolve": {"scale": {"color": "independent"}, "legend": {"color": "independent"}}, "vconcat": [
{"spacing": 32.5, "resolve": {"scale": {"color": "independent"}, "legend": {"color": "independent"}}, "hconcat": [
 {"width": 400, "height": 250, "title": "（a）工况一不同时间主洞内CO浓度变化过程",
  "resolve": {"axis": {"x": "independent", "y": "independent"}},
  "layer": [
   {"data": {"name": "a"}, "mark": "line", "encoding": {
     "x": {"field": "x", "type": "quantitative", "title": "距离入口方向掌子面的距离/m", "scale": {"domain": [0, 500], "nice": false}, "axis": {"values": [0,100,200,300,400,500], "labelOverlap": false}},
     "y": {"field": "y", "type": "quantitative", "title": "CO浓度值/(mg·m⁻³)", "scale": {"domain": [0, 1600], "nice": false}, "axis": {"values": [0,200,400,600,800,1000,1200,1400,1600], "labelOverlap": false, "labelExpr": "replace(format(datum.value, ','), ',', ' ')"}},
     "color": {"field": "s", "type": "nominal", "scale": {"domain": ["2 min","4 min","6 min","8 min","10 min","11 min","12 min","13 min","14 min","15 min"], "range": ["#f3250c","#1c1ca0","#22cc22","#d01818","#b8a400","#1040f0","#f5a040","#8a3ad8","#30f0a0","#f07888"]}, "legend": {"title": null, "offset": -2.5, "padding": 15.5, "rowPadding": 3.3}}
   }},
   {"data": {"values": [{"x": 331, "x2": 431, "y": 260, "y2": 437}]}, "mark": {"type": "rect", "fill": "white", "stroke": "#555", "strokeWidth": 1}, "encoding": {"x": {"field": "x", "type": "quantitative", "axis": null}, "x2": {"field": "x2"}, "y": {"field": "y", "type": "quantitative", "axis": null}, "y2": {"field": "y2"}}},
   {"data": {"values": [{"x": 381, "y": 348, "t": "支洞位置"}]}, "mark": {"type": "text", "font": "Noto Sans CJK SC", "fontSize": 15, "color": "black"}, "encoding": {"x": {"field": "x", "type": "quantitative", "axis": null}, "y": {"field": "y", "type": "quantitative", "axis": null}, "text": {"field": "t"}}},
   {"data": {"values": [{"x": 297, "y": 8, "x2": 348, "y2": 240}]}, "mark": {"type": "rule", "color": "black", "strokeWidth": 1.2}, "encoding": {"x": {"field": "x", "type": "quantitative", "axis": null}, "x2": {"field": "x2"}, "y": {"field": "y", "type": "quantitative", "axis": null}, "y2": {"field": "y2"}}},
   {"data": {"values": [{"x": 348, "y": 240}]}, "mark": {"type": "point", "shape": "M -0.6 0.9 L 0 0 L 0.6 0.9", "filled": false, "stroke": "black", "strokeWidth": 1.2, "size": 200, "angle": 48, "opacity": 1}, "encoding": {"x": {"field": "x", "type": "quantitative", "axis": null}, "y": {"field": "y", "type": "quantitative", "axis": null}}},
   {"data": {"values": [{"x": 294, "y": 0}]}, "mark": {"type": "point", "filled": true, "color": "black", "size": 70, "opacity": 1}, "encoding": {"x": {"field": "x", "type": "quantitative", "axis": null}, "y": {"field": "y", "type": "quantitative", "axis": null}}}
  ]},
 {"width": 408, "height": 250, "title": "（b）工况一不同时间支洞内CO浓度变化过程",
  "resolve": {"axis": {"x": "independent", "y": "independent"}},
  "layer": [
   {"data": {"name": "b"}, "mark": "line", "encoding": {
     "x": {"field": "x", "type": "quantitative", "title": "距离支洞出口的距离/m", "scale": {"domain": [0, 300], "nice": false}, "axis": {"values": [0,50,100,150,200,250,300], "labelOverlap": false}},
     "y": {"field": "y", "type": "quantitative", "title": "CO浓度值/(mg·m⁻³)", "scale": {"domain": [0, 632.9], "nice": false}, "axis": {"values": [0,100,200,300,400,500,600], "domain": false, "labelOverlap": false}},
     "color": {"field": "s", "type": "nominal", "scale": {"domain": ["4 min","6 min","8 min","10 min","11 min","12 min","13 min","14 min","15 min","16 min"], "range": ["#f3250c","#1c1ca0","#22cc40","#d01818","#b0a000","#1040f0","#f5a040","#8a3ad8","#30f0a0","#f07888"]}, "legend": {"title": null, "offset": 5.5, "padding": 14.5, "rowPadding": 5.8}}
   }},
   {"data": {"values": [{"x": 0, "y": 0, "y2": 600}]}, "mark": {"type": "rule", "color": "black", "strokeWidth": 1.5}, "encoding": {"x": {"field": "x", "type": "quantitative", "axis": null}, "y": {"field": "y", "type": "quantitative", "axis": null}, "y2": {"field": "y2"}}}
  ]}
]},
{"spacing": 19, "resolve": {"scale": {"color": "independent"}, "legend": {"color": "independent"}}, "hconcat": [
 {"width": 420, "height": 248, "title": "（c）工况二不同时间主洞内CO浓度变化过程",
  "resolve": {"axis": {"x": "independent", "y": "independent"}},
  "layer": [
   {"data": {"name": "c"}, "mark": "line", "encoding": {
     "x": {"field": "x", "type": "quantitative", "title": "距离入口方向掌子面的距离/m", "scale": {"domain": [0, 500], "nice": false}, "axis": {"values": [0,100,200,300,400,500], "labelOverlap": false}},
     "y": {"field": "y", "type": "quantitative", "title": "CO浓度值/(mg·m⁻³)", "scale": {"domain": [0, 1400], "nice": false}, "axis": {"values": [0,200,400,600,800,1000,1200,1400], "labelOverlap": false, "labelExpr": "replace(format(datum.value, ','), ',', ' ')"}},
     "color": {"field": "s", "type": "nominal", "scale": {"domain": ["2 min","4 min","6 min","8 min","10 min","11 min","12 min","13 min","14 min","15 min"], "range": ["#22dd22","#d01818","#dccb10","#1050f0","#e05010","#2020c8","#30f080","#d81818","#f2e21c","#2060f0"]}, "legend": {"title": null, "offset": 15.5, "padding": 4.5, "rowPadding": 5.9}}
   }},
   {"data": {"values": [{"x": 211, "y": 520, "t": "支洞位置"}]}, "mark": {"type": "text", "font": "Noto Sans CJK SC", "fontSize": 15, "color": "black"}, "encoding": {"x": {"field": "x", "type": "quantitative", "axis": null}, "y": {"field": "y", "type": "quantitative", "axis": null}, "text": {"field": "t"}}},
   {"data": {"values": [{"x": 314, "y": 9, "x2": 218, "y2": 485}]}, "mark": {"type": "rule", "color": "black", "strokeWidth": 1.2}, "encoding": {"x": {"field": "x", "type": "quantitative", "axis": null}, "x2": {"field": "x2"}, "y": {"field": "y", "type": "quantitative", "axis": null}, "y2": {"field": "y2"}}},
   {"data": {"values": [{"x": 218, "y": 485}]}, "mark": {"type": "point", "shape": "M -0.6 0.9 L 0 0 L 0.6 0.9", "filled": false, "stroke": "black", "strokeWidth": 1.2, "size": 200, "angle": 316, "opacity": 1}, "encoding": {"x": {"field": "x", "type": "quantitative", "axis": null}, "y": {"field": "y", "type": "quantitative", "axis": null}}},
   {"data": {"values": [{"x": 316, "y": 0}]}, "mark": {"type": "point", "filled": true, "color": "black", "size": 70, "opacity": 1}, "encoding": {"x": {"field": "x", "type": "quantitative", "axis": null}, "y": {"field": "y", "type": "quantitative", "axis": null}}}
  ]},
 {"width": 408, "height": 248, "title": "（d）工况二不同时间支洞内CO浓度变化过程",
  "resolve": {"axis": {"x": "independent", "y": "independent"}},
  "layer": [
   {"data": {"name": "d"}, "mark": "line", "encoding": {
     "x": {"field": "x", "type": "quantitative", "title": "距离支洞出口的距离/m", "scale": {"domain": [0, 300], "nice": false}, "axis": {"values": [0,50,100,150,200,250,300], "labelOverlap": false}},
     "y": {"field": "y", "type": "quantitative", "title": "CO浓度值/(mg·m⁻³)", "scale": {"domain": [0, 638.6], "nice": false}, "axis": {"values": [0,100,200,300,400,500,600], "domain": false, "labelOverlap": false}},
     "color": {"field": "s", "type": "nominal", "scale": {"domain": ["4 min","6 min","8 min","10 min","11 min","12 min","13 min","14 min","15 min","16 min"], "range": ["#f3250c","#1c1ca0","#22cc40","#d01818","#b0a000","#1040f0","#f5a040","#8a3ad8","#30f0a0","#f07888"]}, "legend": {"title": null, "offset": 3.5, "padding": 15.5, "rowPadding": 7.8}}
   }},
   {"data": {"values": [{"x": 0, "y": 0, "y2": 600}]}, "mark": {"type": "rule", "color": "black", "strokeWidth": 1.5}, "encoding": {"x": {"field": "x", "type": "quantitative", "axis": null}, "y": {"field": "y", "type": "quantitative", "axis": null}, "y2": {"field": "y2"}}}
  ]}
]}
]},
{"spacing": 17.5, "resolve": {"scale": {"color": "independent"}, "legend": {"color": "independent"}}, "hconcat": [
 {"width": 418, "height": 227, "title": "（e）工况三不同时间主洞内CO浓度变化过程",
  "resolve": {"axis": {"x": "independent", "y": "independent"}},
  "layer": [
   {"data": {"name": "e"}, "mark": "line", "encoding": {
     "x": {"field": "x", "type": "quantitative", "title": "距离入口方向掌子面的距离/m", "scale": {"domain": [0, 1600], "nice": false}, "axis": {"values": [0,200,400,600,800,1000,1200,1400,1600], "labelOverlap": false, "labelExpr": "replace(format(datum.value, ','), ',', ' ')"}},
     "y": {"field": "y", "type": "quantitative", "title": "CO浓度值/(mg·m⁻³)", "scale": {"domain": [0, 1200], "nice": false}, "axis": {"values": [0,200,400,600,800,1000,1200], "labelOverlap": false, "labelExpr": "replace(format(datum.value, ','), ',', ' ')"}},
     "color": {"field": "s", "type": "nominal", "scale": {"domain": ["6 min","10 min","14 min","18 min","20 min","22 min","24 min","26 min"], "range": ["#d87020","#3020a0","#20c070","#c83050","#b8b030","#2070e0","#f0b080","#9060d0"]}, "legend": {"title": null, "offset": 3.5, "padding": 15.5, "rowPadding": 3.7}}
   }},
   {"data": {"values": [{"x": 670, "x2": 975, "y": 622, "y2": 790}]}, "mark": {"type": "rect", "fill": "white", "stroke": "#555", "strokeWidth": 1}, "encoding": {"x": {"field": "x", "type": "quantitative", "axis": null}, "x2": {"field": "x2"}, "y": {"field": "y", "type": "quantitative", "axis": null}, "y2": {"field": "y2"}}},
   {"data": {"values": [{"x": 822, "y": 706, "t": "支洞位置"}]}, "mark": {"type": "text", "font": "Noto Sans CJK SC", "fontSize": 15, "color": "black"}, "encoding": {"x": {"field": "x", "type": "quantitative", "axis": null}, "y": {"field": "y", "type": "quantitative", "axis": null}, "text": {"field": "t"}}},
   {"data": {"values": [{"x": 771, "y": 0, "x2": 836, "y2": 615}]}, "mark": {"type": "rule", "color": "black", "strokeWidth": 1.2}, "encoding": {"x": {"field": "x", "type": "quantitative", "axis": null}, "x2": {"field": "x2"}, "y": {"field": "y", "type": "quantitative", "axis": null}, "y2": {"field": "y2"}}},
   {"data": {"values": [{"x": 836, "y": 615}]}, "mark": {"type": "point", "shape": "M -0.6 0.9 L 0 0 L 0.6 0.9", "filled": false, "stroke": "black", "strokeWidth": 1.2, "size": 200, "angle": 7, "opacity": 1}, "encoding": {"x": {"field": "x", "type": "quantitative", "axis": null}, "y": {"field": "y", "type": "quantitative", "axis": null}}},
   {"data": {"values": [{"x": 771, "y": 0}]}, "mark": {"type": "point", "filled": true, "color": "black", "size": 70, "opacity": 1}, "encoding": {"x": {"field": "x", "type": "quantitative", "axis": null}, "y": {"field": "y", "type": "quantitative", "axis": null}}}
  ]},
 {"width": 418, "height": 230, "title": "（f）工况三不同时间支洞内CO浓度变化过程",
  "layer": [
   {"data": {"name": "f"}, "mark": "line", "encoding": {
     "x": {"field": "x", "type": "quantitative", "title": "距离支洞出口的距离/m", "scale": {"domain": [0, 300], "nice": false}, "axis": {"values": [0,50,100,150,200,250,300], "labelOverlap": false}},
     "y": {"field": "y", "type": "quantitative", "title": "CO浓度值/(mg·m⁻³)", "scale": {"domain": [0, 450], "nice": false}, "axis": {"values": [0,50,100,150,200,250,300,350,400,450], "labelOverlap": false}},
     "color": {"field": "s", "type": "nominal", "scale": {"domain": ["10 min","12 min","14 min","16 min","20 min","22 min","24 min","26 min","28 min"], "range": ["#d87020","#2020a0","#20c070","#c82040","#b0a830","#2070e0","#f0b080","#9060d0","#70e0b0"]}, "legend": {"title": null, "offset": 12, "padding": 0, "rowPadding": 9.4, "labelOffset": 8}}
   }}
  ]}
]}
]
}
